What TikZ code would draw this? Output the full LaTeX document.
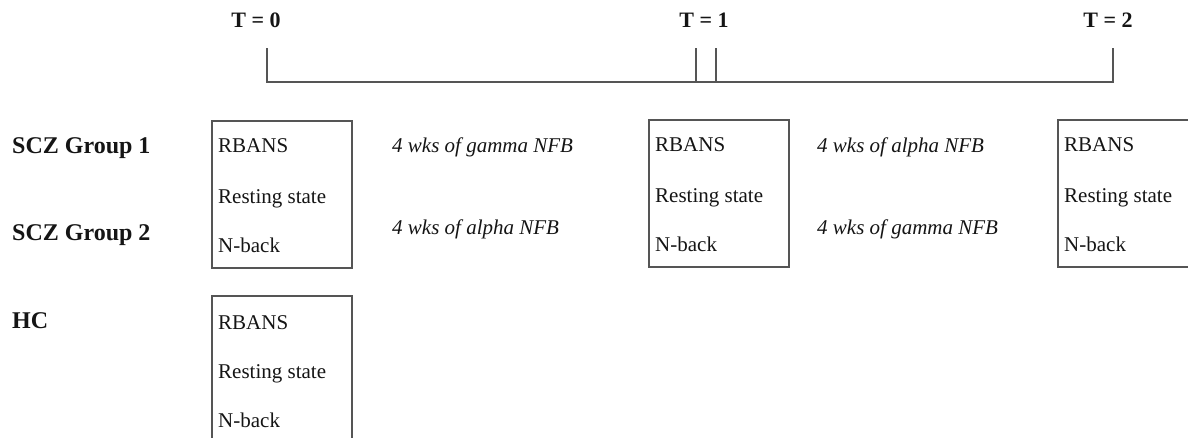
\documentclass[tikz,border=0pt]{standalone}
\usepackage{fontspec}
\setmainfont{Liberation Serif}
\definecolor{linegray}{HTML}{555555}
\definecolor{txt}{HTML}{151515}
\begin{document}
\begin{tikzpicture}[x=1pt,y=-1pt,
  rule/.style={draw=linegray,line width=1.6pt},
  boxnode/.style={draw=linegray,line width=1.6pt,minimum width=140pt,minimum height=147pt,inner sep=0pt,anchor=north west},
  item/.style={anchor=base west,inner sep=0pt,text=txt,font=\fontsize{21}{24}\selectfont},
  grp/.style={anchor=base west,inner sep=0pt,text=txt,font=\fontsize{24}{28}\selectfont\bfseries},
  tlab/.style={anchor=base,inner sep=0pt,text=txt,font=\fontsize{22}{26}\selectfont\bfseries},
  nfb/.style={anchor=base west,inner sep=0pt,text=txt,font=\fontsize{21}{24}\selectfont\itshape}]
\useasboundingbox (0,0) rectangle (1188,437);
\clip (0,0) rectangle (1188,437);
\fill[white] (0,0) rectangle (1188,437);
% time labels
\node[tlab] (t0) at (256,27) {T = 0};
\node[tlab] (t1) at (704,27) {T = 1};
\node[tlab] (t2) at (1108,27) {T = 2};
% timeline
\coordinate (a0) at (267,48);
\coordinate (a1) at (267,82);
\coordinate (b0) at (696,48);
\coordinate (b1) at (696,82);
\coordinate (c0) at (716,48);
\coordinate (c1) at (716,82);
\coordinate (d0) at (1113,48);
\coordinate (d1) at (1113,82);
\draw[rule] (a0) -- (a1) -- (d1) -- (d0);
\draw[rule] (b0) -- (b1);
\draw[rule] (c0) -- (c1);
% group labels
\node[grp] (g1) at (12,153) {SCZ Group 1};
\node[grp] (g2) at (12,240) {SCZ Group 2};
\node[grp] (hc) at (12,328) {HC};
% boxes
\node[boxnode] (box1) at (211,120) {};
\node[boxnode] (box2) at (648,119) {};
\node[boxnode] (box3) at (1057,119) {};
\node[boxnode,minimum height=170pt] (box4) at (211,295) {};
% box texts
\node[item] (r1) at (218,152) {RBANS};
\node[item] (s1) at (218,203) {Resting state};
\node[item] (n1) at (218,252) {N-back};
\node[item] (r2) at (655,151) {RBANS};
\node[item] (s2) at (655,202) {Resting state};
\node[item] (n2) at (655,251) {N-back};
\node[item] (r3) at (1064,151) {RBANS};
\node[item] (s3) at (1064,202) {Resting state};
\node[item] (n3) at (1064,251) {N-back};
\node[item] (r4) at (218,329) {RBANS};
\node[item] (s4) at (218,378) {Resting state};
\node[item] (n4) at (218,427) {N-back};
% NFB texts
\node[nfb] (f1) at (392,152) {4 wks of gamma NFB};
\node[nfb] (f2) at (392,234) {4 wks of alpha NFB};
\node[nfb] (f3) at (817,152) {4 wks of alpha NFB};
\node[nfb] (f4) at (817,234) {4 wks of gamma NFB};
\end{tikzpicture}
\end{document}
